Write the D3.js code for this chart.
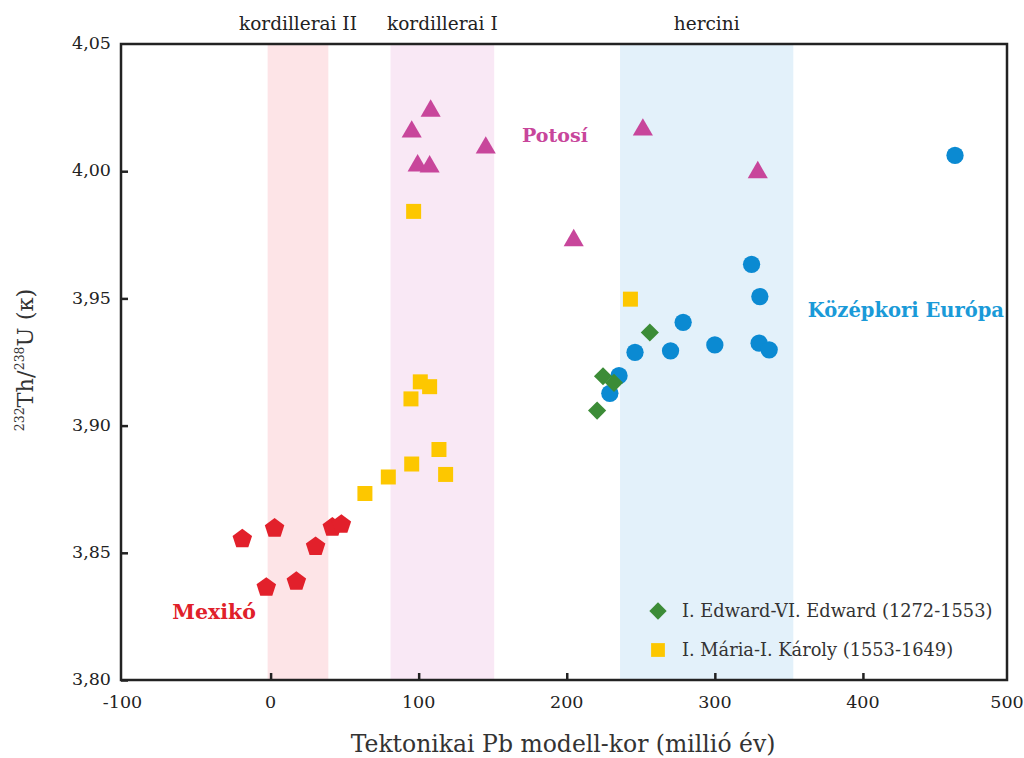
<!DOCTYPE html>
<html><head><meta charset="utf-8">
<script src="https://cdn.jsdelivr.net/npm/d3@7"></script>
<style>body{margin:0;background:#fff}svg{display:block}</style>
</head><body>
<svg id="c" width="1024" height="758"></svg>
<script>
// ---- data ----
const xTicks = [-100, 0, 100, 200, 300, 400, 500];
const yTicks = [3.80, 3.85, 3.90, 3.95, 4.00, 4.05];
const bandNames = ["kordillerai II", "kordillerai I", "hercini"];
const bandStart = [-2, 81, 236];
const bandEnd = [39, 151, 353];
const bandColors = ["#fde4e7", "#f9e8f5", "#e3f1fa"];

const potosiX = [95.3, 108.1, 99.3, 107.4, 145.3, 204.7, 251.4, 329.0];
const potosiY = [4.0155, 4.0237, 4.0022, 4.0018, 4.0092, 3.9728, 4.0163, 3.9995];

const europaX = [462.2, 324.8, 330.4, 278.6, 246.1, 270.1, 300.0, 329.9, 336.7, 235.3, 229.1];
const europaY = [4.0062, 3.9634, 3.9507, 3.9406, 3.9288, 3.9294, 3.9317, 3.9324, 3.9298, 3.9196, 3.9127];

const edwardX = [256.1, 224.5, 231.9, 220.5];
const edwardY = [3.9366, 3.9194, 3.9168, 3.9059];

const mariaX = [96.6, 101.1, 107.4, 94.8, 113.7, 95.3, 118.2, 79.5, 63.7, 243.0];
const mariaY = [3.9842, 3.9172, 3.9153, 3.9105, 3.8906, 3.8849, 3.8808, 3.8798, 3.8733, 3.9497];

const mexicoX = [-19.1, 2.7, 30.4, 41.7, 47.8, -2.9, 17.4];
const mexicoY = [3.8554, 3.8596, 3.8524, 3.8600, 3.8611, 3.8364, 3.8387];

const legendLabels = ["I. Edward-VI. Edward (1272-1553)", "I. Mária-I. Károly (1553-1649)"];
const xTitle = "Tektonikai Pb modell-kor (millió év)";

// ---- layout ----
const L = 121, R = 1007, T = 44, B = 680;
const svg = d3.select("#c");
const x = d3.scaleLinear().domain([-100, 500]).range([122.5, 1011]);
const y = d3.scaleLinear().domain([3.80, 4.05]).range([B, T]);
const serif = "'DejaVu Serif', 'Liberation Serif', serif";
const fmt = d => d3.format(".2f")(d).replace(".", ",");

// bands
bandNames.forEach((n, i) => {
  svg.append("rect").attr("x", x(bandStart[i])).attr("y", T)
    .attr("width", x(bandEnd[i]) - x(bandStart[i])).attr("height", B - T)
    .attr("fill", bandColors[i]);
  svg.append("text").attr("x", (x(bandStart[i]) + x(bandEnd[i])) / 2).attr("y", 30)
    .attr("text-anchor", "middle").attr("font-family", serif).attr("font-size", 18.5)
    .attr("fill", "#222").text(n);
});

// pentagon symbol
const pentagon = {
  draw(ctx, size) {
    const r = Math.sqrt(size / 2.3776);
    for (let k = 0; k < 5; k++) {
      const a = -Math.PI / 2 + k * 2 * Math.PI / 5;
      const px = r * Math.cos(a), py = r * Math.sin(a);
      if (k === 0) ctx.moveTo(px, py); else ctx.lineTo(px, py);
    }
    ctx.closePath();
  }
};

function drawSeries(xs, ys, type, size, color, rot) {
  const sym = d3.symbol().type(type).size(size);
  svg.append("g").selectAll("path").data(xs.map((v, i) => [v, ys[i]])).join("path")
    .attr("d", sym)
    .attr("transform", d => `translate(${x(d[0])},${y(d[1])})` + (rot ? ` rotate(${rot})` : ""))
    .attr("fill", color);
}

drawSeries(europaX, europaY, d3.symbolCircle, 235, "#0b8ad2");
drawSeries(potosiX, potosiY, d3.symbolTriangle, 175, "#c8469b");
drawSeries(mexicoX, mexicoY, pentagon, 250, "#e2202b");
drawSeries(mariaX, mariaY, d3.symbolSquare, 225, "#fdc700");
drawSeries(edwardX, edwardY, d3.symbolSquare, 165, "#3c8c37", 45);

// frame
svg.append("rect").attr("x", L).attr("y", T).attr("width", R - L).attr("height", B - T)
  .attr("fill", "none").attr("stroke", "#222").attr("stroke-width", 2.5);

// axes (inward ticks)
const gy = svg.append("g").attr("transform", `translate(${L},0)`)
  .call(d3.axisRight(y).tickValues(yTicks.slice(0, -1)).tickSize(7).tickFormat(""));
gy.select(".domain").remove();
gy.selectAll("line").attr("stroke", "#222").attr("stroke-width", 2.5);
svg.append("g").selectAll("text").data(yTicks).join("text")
  .attr("x", L - 10).attr("y", d => y(d)).attr("dy", "0.3em").attr("text-anchor", "end")
  .attr("font-family", serif).attr("font-size", 17.5).attr("fill", "#222").text(fmt);

const gx = svg.append("g").attr("transform", `translate(0,${B})`)
  .call(d3.axisTop(x).tickValues(xTicks.slice(1, -1)).tickSize(7).tickFormat(""));
gx.select(".domain").remove();
gx.selectAll("line").attr("stroke", "#222").attr("stroke-width", 2.5);
svg.append("g").selectAll("text").data(xTicks).join("text")
  .attr("x", d => Math.min(Math.max(x(d), L - 3), R)).attr("y", 708).attr("text-anchor", "middle")
  .attr("font-family", serif).attr("font-size", 17.5).attr("fill", "#222").text(d => d);

// titles
svg.append("text").attr("x", 563).attr("y", 752).attr("text-anchor", "middle")
  .attr("font-family", serif).attr("font-size", 23.5).attr("fill", "#333").text(xTitle);

const yl = svg.append("text").attr("transform", "translate(33,360) rotate(-90)")
  .attr("text-anchor", "middle").attr("font-family", serif).attr("font-size", 22.5).attr("fill", "#333");
yl.append("tspan").attr("font-size", 12.5).attr("dy", -9).text("232");
yl.append("tspan").attr("dy", 9).text("Th/");
yl.append("tspan").attr("font-size", 12.5).attr("dy", -9).text("238");
yl.append("tspan").attr("dy", 9).text("U (κ)");

// group labels
svg.append("text").attr("x", 555).attr("y", 142).attr("text-anchor", "middle")
  .attr("font-family", serif).attr("font-weight", "bold").attr("font-size", 19)
  .attr("fill", "#c8469b").text("Potosí");
svg.append("text").attr("x", 1004).attr("y", 317).attr("text-anchor", "end")
  .attr("font-family", serif).attr("font-weight", "bold").attr("font-size", 19.5)
  .attr("fill", "#1a9ad8").text("Középkori Európa");
svg.append("text").attr("x", 214).attr("y", 619).attr("text-anchor", "middle")
  .attr("font-family", serif).attr("font-weight", "bold").attr("font-size", 20.5)
  .attr("fill", "#e0202a").text("Mexikó");

// legend
const legSym = [d3.symbol().type(d3.symbolSquare).size(150), d3.symbol().type(d3.symbolSquare).size(190)];
const legCol = ["#3c8c37", "#fdc700"];
const legRot = [45, 0];
legendLabels.forEach((t, i) => {
  const ly = 611 + i * 39;
  svg.append("path").attr("d", legSym[i]())
    .attr("transform", `translate(658,${ly}) rotate(${legRot[i]})`).attr("fill", legCol[i]);
  svg.append("text").attr("x", 682).attr("y", ly).attr("dy", "0.35em")
    .attr("font-family", serif).attr("font-size", 17.8).attr("fill", "#333").text(t);
});
</script>
</body></html>
